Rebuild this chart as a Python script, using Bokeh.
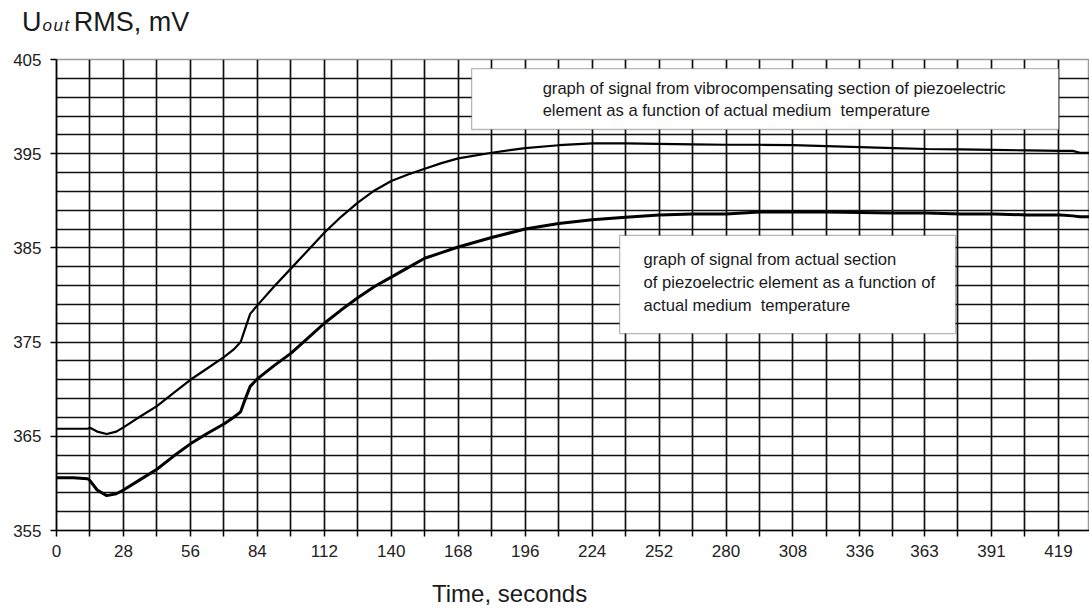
from bokeh.plotting import figure
from bokeh.models import Range1d, FixedTicker, Label, BoxAnnotation, Div
from bokeh.layouts import column
from bokeh.embed import file_html
from bokeh.resources import INLINE

# ---- data ----
time_s = [0, 7, 13, 14, 17, 21, 25, 28, 35, 42, 49, 56, 63, 70, 74, 77, 79, 81, 84,
          91, 98, 105, 112, 119, 126, 133, 140, 147, 154, 161, 168, 182, 196, 210,
          224, 238, 252, 266, 280, 294, 308, 322, 336, 350, 364, 378, 392, 406, 420,
          425, 428, 432]

vibro_mv = [365.8, 365.8, 365.8, 365.9, 365.5, 365.25, 365.5, 365.95, 367.1, 368.2,
            369.6, 371.0, 372.2, 373.4, 374.2, 375.0, 376.5, 378.0, 378.9, 380.9,
            382.8, 384.7, 386.6, 388.3, 389.8, 391.1, 392.1, 392.8, 393.4, 394.0,
            394.5, 395.1, 395.6, 395.9, 396.1, 396.1, 396.05, 396.0, 395.95, 395.95,
            395.9, 395.8, 395.7, 395.6, 395.5, 395.45, 395.4, 395.35, 395.3, 395.3,
            395.1, 395.1]

actual_mv = [360.6, 360.6, 360.5, 360.3, 359.3, 358.7, 358.9, 359.3, 360.4, 361.5,
             362.9, 364.2, 365.3, 366.3, 367.0, 367.6, 369.0, 370.3, 371.1, 372.5,
             373.8, 375.4, 377.0, 378.4, 379.7, 380.9, 381.9, 382.9, 383.9, 384.5,
             385.1, 386.1, 387.0, 387.6, 388.0, 388.25, 388.5, 388.6, 388.6, 388.8,
             388.8, 388.8, 388.75, 388.7, 388.7, 388.6, 388.6, 388.5, 388.5, 388.4,
             388.3, 388.3]

x_tick_labels = [0, 28, 56, 84, 112, 140, 168, 196, 224, 252, 280, 308, 336, 363, 391, 419]
y_tick_labels = [355, 365, 375, 385, 395, 405]

label_vibro = ["graph of signal from vibrocompensating section of piezoelectric",
               "element as a function of actual medium\u00a0 temperature"]
label_actual = ["graph of signal from actual section",
                "of piezoelectric element as a function of",
                "actual medium\u00a0 temperature"]

FONT = "Liberation Sans"

top_div = Div(
    width=1089, height=40, margin=0,
    text=("<div style=\"position:relative;width:1089px;height:40px;margin:0;\">"
          "<span style=\"position:absolute;left:22px;top:3px;white-space:nowrap;"
          "font-family:'Liberation Sans',Arial,sans-serif;font-size:27px;color:#1a1a1a;\">"
          "U<i style=\"font-size:17px;letter-spacing:1.5px;margin-left:1px;\">out</i>"
          "<span style=\"margin-left:3px;\">RMS, mV</span></span></div>"))

p = figure(width=1089, height=535, output_backend="svg", toolbar_location=None,
           x_range=Range1d(0, 432), y_range=Range1d(355, 405),
           min_border_left=56, min_border_right=0, min_border_top=19,
           min_border_bottom=45, margin=0)
p.background_fill_color = "white"
p.border_fill_color = "white"
p.outline_line_color = "#9a9a9a"
p.outline_line_width = 1.5

# grids
x_mid = [(a + b) / 2 for a, b in zip(x_tick_labels[:-1], x_tick_labels[1:])]
x_grid_pos = sorted(x_tick_labels + x_mid)
p.xgrid.ticker = FixedTicker(ticks=x_grid_pos)
p.ygrid.ticker = FixedTicker(ticks=[v for v in range(357, 405, 2)])
for g in (p.xgrid, p.ygrid):
    g.grid_line_color = "#111111"
    g.grid_line_width = 1.7
    g.grid_line_alpha = 1.0

# axes
p.xaxis.ticker = FixedTicker(ticks=x_tick_labels, minor_ticks=x_mid)
p.yaxis.ticker = FixedTicker(ticks=y_tick_labels, minor_ticks=[])
for ax in (p.xaxis, p.yaxis):
    ax.axis_line_color = "black"
    ax.axis_line_width = 1.7
    ax.major_tick_line_color = "black"
    ax.major_tick_line_width = 1.5
    ax.major_tick_out = 6
    ax.major_tick_in = 0
    ax.major_label_text_font = FONT
    ax.major_label_text_font_size = "17px"
    ax.major_label_text_color = "#222222"
p.xaxis.minor_tick_out = 6
p.xaxis.minor_tick_in = 0
p.xaxis.minor_tick_line_color = "black"
p.xaxis.minor_tick_line_width = 1.5
p.yaxis.minor_tick_line_color = None
p.xaxis.major_label_standoff = 8
p.yaxis.major_label_standoff = 9

# curves
p.line(time_s, vibro_mv, line_color="black", line_width=2.2)
p.line(time_s, actual_mv, line_color="black", line_width=3.0)

# annotation boxes
p.add_layout(BoxAnnotation(left=173.6, right=419.1, bottom=397.57, top=404.04,
                           fill_color="white", fill_alpha=1.0,
                           line_color="#111111", line_width=1.3))
p.add_layout(BoxAnnotation(left=235.5, right=376.0, bottom=375.91, top=386.32,
                           fill_color="white", fill_alpha=1.0,
                           line_color="#111111", line_width=1.3))

for i, txt in enumerate(label_vibro):
    p.add_layout(Label(x=203.3, y=401.92 - i * 2.34, text=txt, text_font=FONT,
                       text_font_size="16.6px", text_color="#1a1a1a",
                       text_baseline="middle", text_align="left"))
for i, txt in enumerate(label_actual):
    p.add_layout(Label(x=245.5, y=383.77 - i * 2.44, text=txt, text_font=FONT,
                       text_font_size="16.6px", text_color="#1a1a1a",
                       text_baseline="middle", text_align="left"))

bottom_div = Div(
    width=1089, height=33, margin=0,
    text=("<div style=\"position:relative;width:1089px;height:33px;margin:0;\">"
          "<span style=\"position:absolute;left:432px;top:2px;white-space:nowrap;"
          "font-family:'Liberation Sans',Arial,sans-serif;font-size:24px;color:#1a1a1a;\">"
          "Time, seconds</span></div>"))

layout = column(top_div, p, bottom_div, spacing=0, margin=0)
open("out.html", "w").write(file_html(layout, INLINE))
